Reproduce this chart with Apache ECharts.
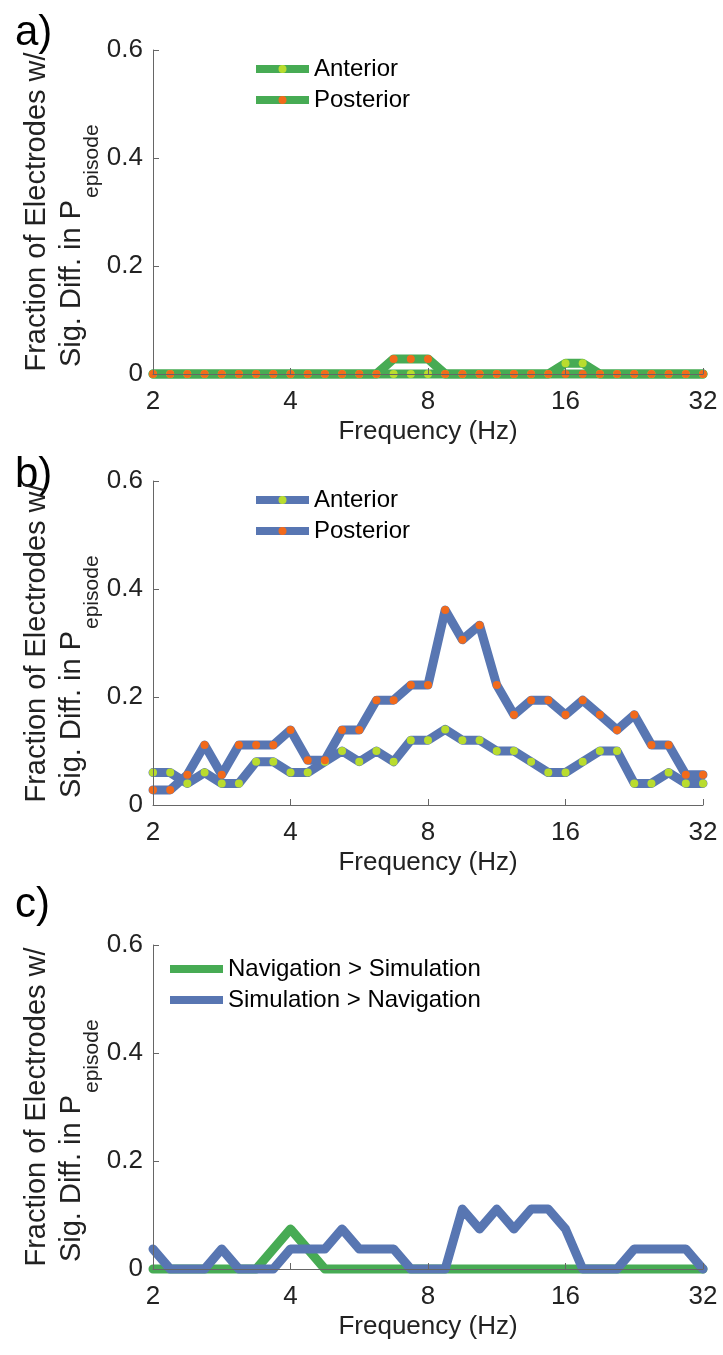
<!DOCTYPE html>
<html><head><meta charset="utf-8">
<script src="https://cdn.jsdelivr.net/npm/echarts@6/dist/echarts.min.js"></script>
<style>html,body{margin:0;padding:0;background:#fff}#c{width:723px;height:1355px}</style>
</head><body><div id="c"></div>
<script>
// Frequencies (Hz), 8 per octave from 2 to 32
const freqs = [2.000,2.181,2.378,2.594,2.828,3.084,3.364,3.668,4.000,4.362,4.757,5.187,5.657,6.169,6.727,7.336,8.000,
  8.724,9.514,10.375,11.314,12.338,13.454,14.672,16.000,17.448,19.027,20.749,22.627,24.675,26.909,29.344,32.000];
const xTicks = [2, 4, 8, 16, 32];
const yTicks = [0, 0.2, 0.4, 0.6];

// Panel a
const aAnterior  = [0,0,0,0,0,0,0,0,0,0,0,0,0,0,0,0,0,0,0,0,0,0,0,0,0.02,0.02,0,0,0,0,0,0,0];
const aPosterior = [0,0,0,0,0,0,0,0,0,0,0,0,0,0,0.028,0.028,0.028,0,0,0,0,0,0,0,0,0,0,0,0,0,0,0,0];
// Panel b
const bAnterior  = [0.06,0.06,0.04,0.06,0.04,0.04,0.08,0.08,0.06,0.06,0.08,0.10,0.08,0.10,0.08,0.12,0.12,
  0.14,0.12,0.12,0.10,0.10,0.08,0.06,0.06,0.08,0.10,0.10,0.04,0.04,0.06,0.04,0.04];
const bPosterior = [0.028,0.028,0.056,0.111,0.056,0.111,0.111,0.111,0.139,0.083,0.083,0.139,0.139,0.194,0.194,0.222,0.222,
  0.361,0.306,0.333,0.222,0.167,0.194,0.194,0.167,0.194,0.167,0.139,0.167,0.111,0.111,0.056,0.056];
// Panel c
const cNavGtSim = [0,0,0,0,0,0,0,0.037,0.074,0.037,0,0,0,0,0,0,0,0,0,0,0,0,0,0,0,0,0,0,0,0,0,0,0];
const cSimGtNav = [0.037,0,0,0,0.037,0,0,0,0.037,0.037,0.037,0.074,0.037,0.037,0.037,0,0,
  0,0.111,0.074,0.111,0.074,0.111,0.111,0.074,0,0,0,0.037,0.037,0.037,0.037,0];

const FONT = '"Liberation Sans", Arial, Helvetica, sans-serif';
const GREEN = '#47AB54', BLUE = '#5876B2', ORANGE = '#F26A1B', LIME = '#B9DC2E';
const AXC = '#666', TXT = '#222';

const panels = [
  {top: 50,  label: 'a)', labelY: 33,  legendTop: 56,  legendLeft: 252},
  {top: 481, label: 'b)', labelY: 475, legendTop: 487, legendLeft: 252},
  {top: 945, label: 'c)', labelY: 905, legendTop: 956, legendLeft: 170}
];
const H = 324;

const grids = [], xAxes = [], yAxes = [], graphics = [];
panels.forEach((p, i) => {
  grids.push({left: 153, width: 550, top: p.top, height: H});
  xAxes.push({
    type: 'log', logBase: 2, min: xTicks[0], max: xTicks[xTicks.length - 1], gridIndex: i, z: 5,
    axisLine: {show: true, lineStyle: {color: AXC, width: 1}},
    axisTick: {show: true, inside: true, length: 6, lineStyle: {color: AXC}},
    axisLabel: {fontSize: 26, color: TXT, margin: 15, fontFamily: FONT},
    splitLine: {show: false},
    name: 'Frequency (Hz)', nameLocation: 'middle', nameGap: 45,
    nameTextStyle: {fontSize: 26, color: TXT, fontFamily: FONT}
  });
  yAxes.push({
    type: 'value', min: yTicks[0], max: yTicks[yTicks.length - 1], interval: 0.2, gridIndex: i, z: 5,
    axisLine: {show: true, lineStyle: {color: AXC, width: 1}},
    axisTick: {show: true, inside: true, length: 6, lineStyle: {color: AXC}},
    axisLabel: {fontSize: 26, color: TXT, margin: 10, fontFamily: FONT},
    splitLine: {show: false}
  });
  const B = p.top + H, C = p.top + H / 2, J = B - 174;
  graphics.push(
    {type: 'text', x: 15, y: p.labelY, style: {text: p.label, font: '42px ' + FONT, fill: '#000',
      align: 'left', verticalAlign: 'middle', textAlign: 'left', textVerticalAlign: 'middle'}},
    {type: 'text', x: 37, y: C, rotation: Math.PI / 2, style: {text: 'Fraction of Electrodes w/', font: '29px ' + FONT, fill: TXT,
      align: 'center', verticalAlign: 'middle', textAlign: 'center', textVerticalAlign: 'middle'}},
    {type: 'text', x: 72, y: J, rotation: Math.PI / 2, style: {text: 'Sig. Diff. in P', font: '29px ' + FONT, fill: TXT,
      align: 'right', verticalAlign: 'middle', textAlign: 'right', textVerticalAlign: 'middle'}},
    {type: 'text', x: 92, y: J - 2, rotation: Math.PI / 2, style: {text: 'episode', font: '21px ' + FONT, fill: TXT,
      align: 'left', verticalAlign: 'middle', textAlign: 'left', textVerticalAlign: 'middle'}}
  );
});

function mk(name, idx, vals, lineColor, dotColor) {
  return {
    name: name, type: 'line', xAxisIndex: idx, yAxisIndex: idx,
    data: freqs.map((f, k) => [f, vals[k]]),
    lineStyle: {color: lineColor, width: 9, cap: 'round', join: 'round'},
    itemStyle: {color: dotColor || lineColor},
    symbol: dotColor ? 'circle' : 'none', symbolSize: 8, showSymbol: !!dotColor, showAllSymbol: true,
    clip: false, silent: true, emphasis: {disabled: true}, animation: false
  };
}
const series = [
  mk('Anterior|a', 0, aAnterior, GREEN, LIME),
  mk('Posterior|a', 0, aPosterior, GREEN, ORANGE),
  mk('Anterior|b', 1, bAnterior, BLUE, LIME),
  mk('Posterior|b', 1, bPosterior, BLUE, ORANGE),
  mk('Navigation > Simulation|c', 2, cNavGtSim, GREEN, null),
  mk('Simulation > Navigation|c', 2, cSimGtNav, BLUE, null)
];

function legend(p, names, icon) {
  const l = {
    data: names, left: p.legendLeft, top: p.legendTop, orient: 'vertical', padding: 0,
    itemWidth: 53, itemHeight: icon ? 8 : 10, itemGap: 5, selectedMode: false,
    formatter: n => n.split('|')[0],
    textStyle: {fontSize: 24, lineHeight: 26, color: '#000', fontFamily: FONT},
    lineStyle: {width: 8, cap: 'butt'}
  };
  if (icon) l.icon = icon;
  return l;
}

const chart = echarts.init(document.getElementById('c'), null, {renderer: 'canvas'});
chart.setOption({
  animation: false,
  backgroundColor: '#fff',
  grid: grids, xAxis: xAxes, yAxis: yAxes, series: series,
  legend: [
    legend(panels[0], ['Anterior|a', 'Posterior|a']),
    legend(panels[1], ['Anterior|b', 'Posterior|b']),
    legend(panels[2], ['Navigation > Simulation|c', 'Simulation > Navigation|c'], 'rect')
  ],
  graphic: graphics
});
</script></body></html>
